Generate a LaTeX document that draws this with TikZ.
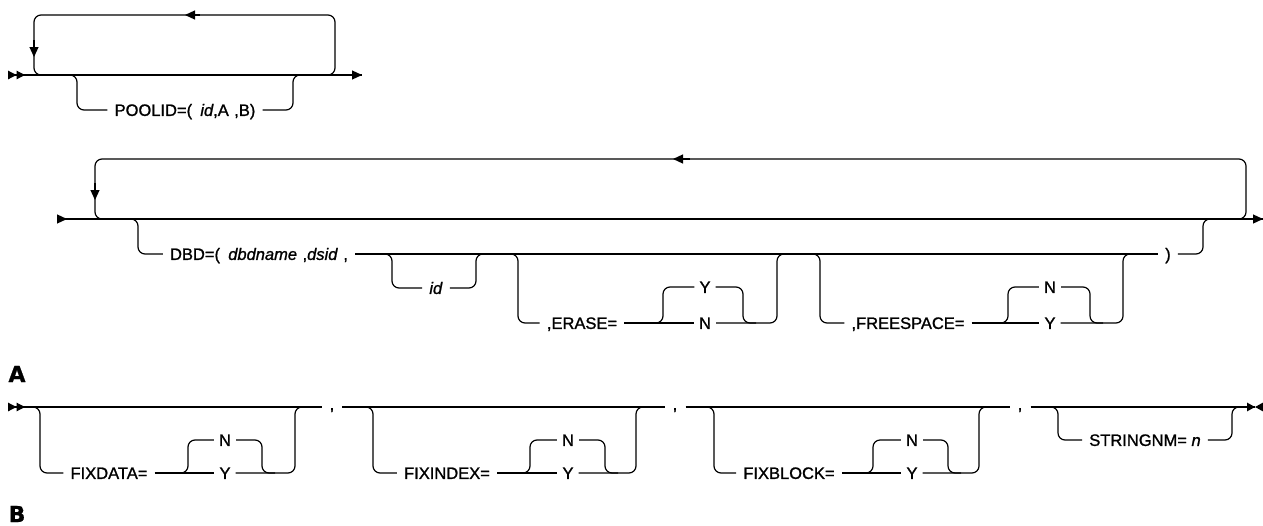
\documentclass[tikz,border=0pt]{standalone}
\usepackage{fontspec}
\setmainfont{Liberation Sans}
\newfontfamily\railfont[FakeBold=1.2]{Liberation Sans}
\newfontfamily\hdrfont[FakeBold=1]{DejaVu Sans}
\usepackage{tikz}
\usetikzlibrary{arrows.meta}
\usetikzlibrary{positioning}

\tikzset{
  rail/.style = {line width=1.2pt, rounded corners=7pt},
  arw/.style = {line width=1.2pt, -{Triangle[length=10pt, width=9pt]}},
  dstart/.style = {{Triangle[reversed, length=8.5pt, width=8.5pt]Triangle[reversed, length=8.5pt, width=8.5pt]}-},
  sstart/.style = {{Triangle[reversed, length=10pt, width=9pt]}-},
  kw/.style = {font=\railfont\fontsize{16.5}{19}\selectfont, text height=11.8pt, text depth=0pt, inner xsep=7pt, inner ysep=0pt},
  opt/.style = {kw, inner xsep=5pt},
  comma/.style = {kw, text height=8pt, text depth=2pt, inner xsep=8pt},
  hdr/.style = {font=\hdrfont\bfseries\fontsize{22}{26}\selectfont, inner sep=0pt},
}

\begin{document}
\begin{tikzpicture}[x=1pt, y=-1pt]
  \useasboundingbox (0,0) rectangle (1263,525);

  % POOLID
  \coordinate (s1) at (8,75);
  \coordinate (e1) at (362,75);
  \draw[rail, dstart] (s1) -- (e1);
  \draw[arw] (340,75) -- (e1);
  \draw[rail] (320,75) -| (335,15) -| (34,75) -- (48,75);
  \draw[arw] (200,15) -- (185,15);
  \draw[arw] (34,40) -- (34,57);
  \node[kw] (pool) at (185,110) {POOLID=(\enspace\textit{id},A\,\,,B)};
  \draw[rail] (64,75) -| (77,110) -- (pool.west);
  \draw[rail] (pool.east) -| (293,75) -- (306,75);

  % DBD
  \coordinate (s2) at (57,219);
  \coordinate (e2) at (1263,219);
  \draw[rail, sstart] (s2) -- (e2);
  \draw[arw] (1240,219) -- (e2);
  \draw[rail] (1230,219) -| (1246,159) -| (95,219) -- (110,219);
  \draw[arw] (690,159) -- (673,159);
  \draw[arw] (95,183) -- (95,200);
  \node[kw] (dbd) at (259,254) {DBD=(\enspace\textit{dbdname}\,\,,\textit{dsid}\,\,,};
  \node[kw] (close) at (1168,254) {)};
  \draw[rail] (124,219) -| (138,254) -- (dbd.west);
  \draw[rail] (dbd.east) -- (close.west);
  \draw[rail] (close.east) -| (1203,219) -- (1216,219);

  \node[kw] (id) at (436,288) {\textit{id}};
  \draw[rail] (379,254) -| (392,288) -- (id.west);
  \draw[rail] (id.east) -| (476,254) -- (489,254);

  \node[kw] (erase) at (582,323) {,ERASE=};
  \node[opt] (eraseN) at (705,323) {N};
  \node[opt] (eraseY) at (705,287) {Y};
  \draw[rail] (505,254) -| (518,323) -- (erase.west);
  \draw[rail] (erase.east) -- (eraseN.west);
  \draw[rail] (eraseN.east) -| (777,254) -- (790,254);
  \draw[rail] (650,323) -| (663,287) -- (eraseY.west);
  \draw[rail] (eraseY.east) -| (743,323) -- (756,323);

  \node[kw] (free) at (908,323) {,FREESPACE=};
  \node[opt] (freeY) at (1050,323) {Y};
  \node[opt] (freeN) at (1050,287) {N};
  \draw[rail] (807,254) -| (820,323) -- (free.west);
  \draw[rail] (free.east) -- (freeY.west);
  \draw[rail] (freeY.east) -| (1123,254) -- (1136,254);
  \draw[rail] (995,323) -| (1008,287) -- (freeN.west);
  \draw[rail] (freeN.east) -| (1090,323) -- (1103,323);

  % fragment A
  \node[hdr] (lblA) at (17,374) {A};
  \node[hdr] (lblB) at (17,514) {B};
  \coordinate (sA) at (8,407);
  \coordinate (eA) at (1255,407);
  \node[comma] (c1) at (332,407) {,};
  \node[comma] (c2) at (675,407) {,};
  \node[comma] (c3) at (1020,407) {,};
  \draw[rail, dstart] (sA) -- (c1.west);
  \draw[rail] (c1.east) -- (c2.west);
  \draw[rail] (c2.east) -- (c3.west);
  \draw[rail] (c3.east) -- (eA);
  \draw[line width=1.2pt, -{Triangle[length=8pt, width=8.5pt]}] (1240,407) -- (eA);
  \draw[line width=1.2pt, -{Triangle[length=8pt, width=8.5pt]}] (1263,407) -- (eA);

  \node[kw] (fixdata) at (109,473) {FIXDATA=};
  \node[opt] (dataY) at (225,473) {Y};
  \node[opt] (dataN) at (225,440) {N};
  \draw[rail] (26,407) -| (40,473) -- (fixdata.west);
  \draw[rail] (fixdata.east) -- (dataY.west);
  \draw[rail] (dataY.east) -| (295,407) -- (308,407);
  \draw[rail] (175,473) -| (188,440) -- (dataN.west);
  \draw[rail] (dataN.east) -| (262,473) -- (275,473);

  \node[kw] (fixindex) at (447,473) {FIXINDEX=};
  \node[opt] (indexY) at (568,473) {Y};
  \node[opt] (indexN) at (568,440) {N};
  \draw[rail] (360,407) -| (373,473) -- (fixindex.west);
  \draw[rail] (fixindex.east) -- (indexY.west);
  \draw[rail] (indexY.east) -| (636,407) -- (649,407);
  \draw[rail] (517,473) -| (530,440) -- (indexN.west);
  \draw[rail] (indexN.east) -| (605,473) -- (618,473);

  \node[kw] (fixblock) at (789,473) {FIXBLOCK=};
  \node[opt] (blockY) at (912,473) {Y};
  \node[opt] (blockN) at (912,440) {N};
  \draw[rail] (701,407) -| (714,473) -- (fixblock.west);
  \draw[rail] (fixblock.east) -- (blockY.west);
  \draw[rail] (blockY.east) -| (979,407) -- (992,407);
  \draw[rail] (860,473) -| (873,440) -- (blockN.west);
  \draw[rail] (blockN.east) -| (948,473) -- (961,473);

  \node[kw] (strnm) at (1145,440) {STRINGNM= \textit{n}};
  \draw[rail] (1045,407) -| (1058,440) -- (strnm.west);
  \draw[rail] (strnm.east) -| (1232,407) -- (1245,407);
\end{tikzpicture}
\end{document}
